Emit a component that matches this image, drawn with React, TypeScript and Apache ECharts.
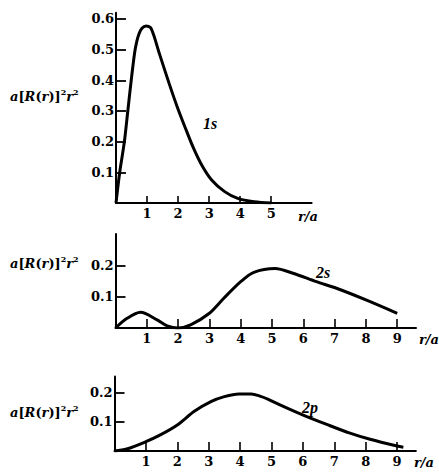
import React, { useEffect, useRef } from "react";
import * as echarts from "echarts";

// 1s radial probability density (r/a, a[R(r)]^2 r^2)
const r1s = [0, 0.12, 0.27, 0.38, 0.49, 0.6, 0.67, 0.74, 0.83, 0.97, 1.13, 1.4, 1.71, 1.97, 2.24, 2.5, 2.76, 3.08, 3.5, 3.92, 4.45, 5.0];
const v1s = [0, 0.1, 0.2, 0.3, 0.4, 0.49, 0.527, 0.551, 0.569, 0.577, 0.569, 0.486, 0.39, 0.314, 0.243, 0.178, 0.124, 0.075, 0.037, 0.015, 0.004, 0];

// 2s
const r2s = [0, 0.37, 0.8, 1.33, 1.65, 2.0, 2.4, 3.0, 3.46, 4.0, 4.42, 5.1, 5.67, 6.42, 7.06, 8.02, 9.0];
const v2s = [0, 0.031, 0.05, 0.026, 0.007, 0, 0.01, 0.047, 0.095, 0.148, 0.178, 0.19, 0.175, 0.148, 0.127, 0.089, 0.047];

// 2p
const r2p = [0, 0.39, 1.0, 1.46, 2.0, 2.53, 3.07, 3.5, 3.96, 4.36, 4.63, 4.9, 5.27, 6.01, 6.76, 7.5, 8.14, 9.0, 9.2];
const v2p = [0, 0.007, 0.032, 0.055, 0.089, 0.135, 0.169, 0.186, 0.195, 0.195, 0.188, 0.177, 0.158, 0.123, 0.091, 0.061, 0.04, 0.017, 0.013];

// tick values
const xTicksTop = [1, 2, 3, 4, 5];
const xTicksWide = [1, 2, 3, 4, 5, 6, 7, 8, 9];
const yTicksTop = [0.1, 0.2, 0.3, 0.4, 0.5, 0.6];
const yTicksSmall = [0.1, 0.2];

const curveNames = ["1s", "2s", "2p"];
const yName = "{i|a}{u|[}{i|R}{u|(}{i|r}{u|)]}{s|2}{i|r}{s|2}";
const xName = "r/a";

const TICK_FONT = "DejaVu Serif";
const SERIF = "Liberation Serif";

const pairs = (xs: number[], ys: number[]) => xs.map((x, i) => [x, ys[i]]);

export default function App() {
  const ref = useRef<HTMLDivElement>(null);
  useEffect(() => {
    if (!ref.current) return;
    const chart = echarts.init(ref.current, null, { renderer: "svg" });

    const axisLine = { show: true, onZero: false, lineStyle: { color: "#000", width: 2 } };
    const labelStyle = {
      color: "#000",
      fontFamily: TICK_FONT,
      fontWeight: "bold" as const,
      fontSize: 13,
    };
    const mkX = (gridIndex: number, max: number, ticks: number[], tickLen: number, margin: number) => ({
      type: "value" as const,
      gridIndex,
      min: 0,
      max,
      axisLine,
      splitLine: { show: false },
      axisTick: { show: true, inside: true, length: tickLen, customValues: ticks, lineStyle: { color: "#000", width: 1.6 } },
      axisLabel: { ...labelStyle, margin, customValues: ticks, formatter: (v: number) => String(v) },
    });
    const mkY = (gridIndex: number, max: number, ticks: number[]) => ({
      type: "value" as const,
      gridIndex,
      min: 0,
      max,
      axisLine,
      splitLine: { show: false },
      axisTick: { show: true, inside: true, length: 10, customValues: ticks, lineStyle: { color: "#000", width: 1.8 } },
      axisLabel: { ...labelStyle, margin: 2, customValues: ticks, formatter: (v: number) => v.toFixed(1) },
    });
    const mkSeries = (idx: number, data: number[][], name: string) => ({
      type: "line" as const,
      name,
      xAxisIndex: idx,
      yAxisIndex: idx,
      data,
      showSymbol: false,
      smooth: 0.3,
      lineStyle: { color: "#000", width: 3 },
      z: 3,
    });

    const richY = {
      i: { fontFamily: TICK_FONT, fontWeight: "bold", fontStyle: "italic", fontSize: 13, lineHeight: 16, fill: "#000" },
      u: { fontFamily: TICK_FONT, fontWeight: "bold", fontSize: 13, lineHeight: 16, fill: "#000" },
      s: { fontFamily: TICK_FONT, fontWeight: "bold", fontSize: 8, verticalAlign: "top", lineHeight: 10, fill: "#000" },
    };
    const yLabel = (y: number) => ({
      type: "text" as const,
      x: 10,
      y,
      style: { text: yName, rich: richY, align: "left", verticalAlign: "middle", fill: "#000" },
    });
    const xLabel = (x: number, y: number) => ({
      type: "text" as const,
      x,
      y,
      style: {
        text: xName,
        fontFamily: TICK_FONT,
        fontWeight: "bold",
        fontStyle: "italic",
        fontSize: 13,
        align: "center",
        verticalAlign: "middle",
        fill: "#000",
      },
    });
    const curveLabel = (text: string, x: number, y: number) => ({
      type: "text" as const,
      x,
      y,
      style: {
        text,
        fontFamily: SERIF,
        fontWeight: "bold",
        fontStyle: "italic",
        fontSize: 16,
        align: "center",
        verticalAlign: "middle",
        fill: "#000",
      },
    });

    chart.setOption({
      animation: false,
      backgroundColor: "#fff",
      grid: [
        { left: 116, top: 12.8, width: 195.6, height: 190.2 },
        { left: 115.5, top: 234.1, width: 300.5, height: 93.9 },
        { left: 114.5, top: 376.5, width: 301.4, height: 74.5 },
      ],
      xAxis: [
        mkX(0, 6.3, xTicksTop, 7, 4),
        mkX(1, 9.6, xTicksWide, 9, 4),
        mkX(2, 9.6, xTicksWide, 9, 4),
      ],
      yAxis: [mkY(0, 0.62, yTicksTop), mkY(1, 0.3, yTicksSmall), mkY(2, 0.255, yTicksSmall)],
      series: [
        mkSeries(0, pairs(r1s, v1s), curveNames[0]),
        mkSeries(1, pairs(r2s, v2s), curveNames[1]),
        mkSeries(2, pairs(r2p, v2p), curveNames[2]),
      ],
      graphic: [
        yLabel(96),
        yLabel(263),
        yLabel(412),
        xLabel(308, 216),
        xLabel(429, 339),
        xLabel(424, 462),
        curveLabel(curveNames[0], 210, 123),
        curveLabel(curveNames[1], 323, 272),
        curveLabel(curveNames[2], 310, 407),
      ],
    });
    return () => chart.dispose();
  }, []);

  return (
    <div
      ref={ref}
      style={{ position: "fixed", left: 0, top: 0, width: 439, height: 472, background: "#fff" }}
    />
  );
}
